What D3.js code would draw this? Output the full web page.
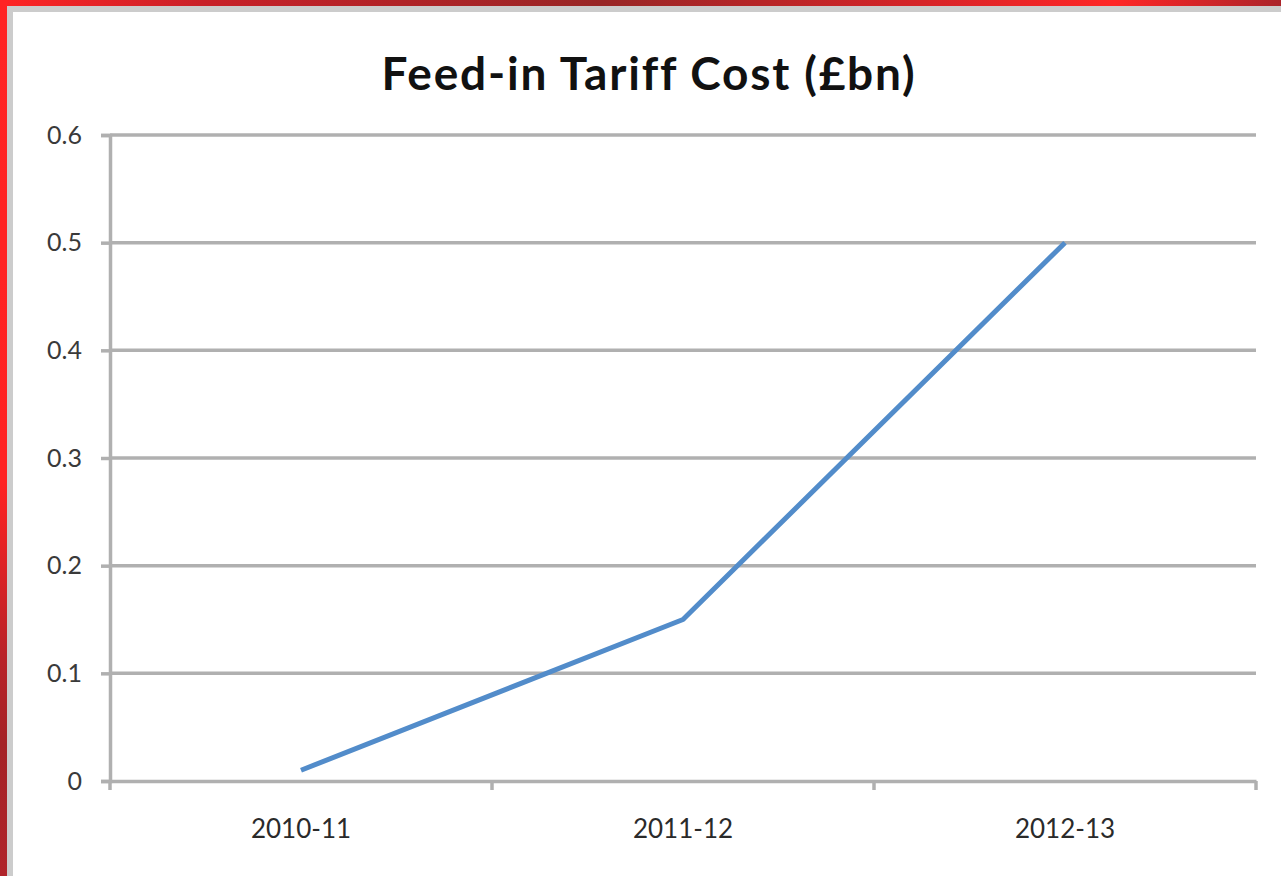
<!DOCTYPE html>
<html>
<head>
<meta charset="utf-8">
<script src="https://cdn.jsdelivr.net/npm/d3@7/dist/d3.min.js"></script>
<style>
  html, body { margin: 0; padding: 0; background: #fff; }
  svg { display: block; }
</style>
</head>
<body>
<svg id="chart" width="1281" height="876"></svg>
<script>
const title = "Feed-in Tariff Cost (£bn)";
const categories = ["2010-11", "2011-12", "2012-13"];
const values = [0.01, 0.15, 0.5];
const yTicks = [0, 0.1, 0.2, 0.3, 0.4, 0.5, 0.6];

const W = 1281, H = 876;
const svg = d3.select("#chart");
const margin = { left: 110, right: 25, top: 135, bottom: 95 };
const FONT = "Lato, 'Open Sans', sans-serif";

// frame: red gradient bands with grey inner bands
const defs = svg.append("defs");
const gTop = defs.append("linearGradient").attr("id", "gTop").attr("x1", 0).attr("x2", 1).attr("y1", 0).attr("y2", 0);
[[0, "#ff2424"], [0.16, "#c82028"], [0.47, "#982626"], [0.72, "#d62428"], [0.87, "#ff2626"], [1, "#ab242a"]]
  .forEach(([o, c]) => gTop.append("stop").attr("offset", o).attr("stop-color", c));
const gLeft = defs.append("linearGradient").attr("id", "gLeft").attr("x1", 0).attr("x2", 0).attr("y1", 0).attr("y2", 1);
[[0, "#ff2424"], [0.55, "#ff2222"], [0.75, "#b82228"], [0.85, "#a42226"], [1, "#b0242a"]]
  .forEach(([o, c]) => gLeft.append("stop").attr("offset", o).attr("stop-color", c));

svg.append("rect").attr("x", 0).attr("y", 0).attr("width", W).attr("height", 6).attr("fill", "url(#gTop)");
svg.append("rect").attr("x", 7).attr("y", 6).attr("width", W - 7).attr("height", 6).attr("fill", "#cccccc");
svg.append("rect").attr("x", 0).attr("y", 0).attr("width", 7).attr("height", H).attr("fill", "url(#gLeft)");
svg.append("rect").attr("x", 7).attr("y", 6).attr("width", 6).attr("height", H - 6).attr("fill", "#cccccc");

const x = d3.scaleBand().domain(categories).range([margin.left, W - margin.right]);
const y = d3.scaleLinear().domain([0, 0.6]).range([H - margin.bottom, margin.top]);

// gridlines
svg.append("g").selectAll("line").data(yTicks.filter(d => d > 0)).join("line")
  .attr("x1", margin.left).attr("x2", W - margin.right)
  .attr("y1", d => y(d)).attr("y2", d => y(d))
  .attr("stroke", "#b0b0b0").attr("stroke-width", 3.5);

// y axis
const yAxis = svg.append("g").attr("transform", `translate(${margin.left},0)`)
  .call(d3.axisLeft(y).tickValues(yTicks).tickFormat(d => d === 0 ? "0" : d3.format(".1f")(d)).tickSize(9).tickPadding(19));
yAxis.select(".domain").attr("stroke", "#b0b0b0").attr("stroke-width", 3.5);
yAxis.selectAll(".tick line").attr("stroke", "#b0b0b0").attr("stroke-width", 3.5);
yAxis.selectAll("text").attr("font-family", FONT).attr("font-size", 25).attr("fill", "#3a3a3a");

// x axis
const xAxis = svg.append("g").attr("transform", `translate(0,${y(0)})`)
  .call(d3.axisBottom(x).tickSize(0).tickPadding(39));
xAxis.select(".domain").attr("stroke", "#b0b0b0").attr("stroke-width", 3.5);
xAxis.selectAll("text").attr("font-family", FONT).attr("font-size", 26).attr("fill", "#2a2a2a");
// x tick marks at band boundaries
const bounds = categories.map(c => x(c)).concat([x(categories[categories.length - 1]) + x.bandwidth()]);
svg.append("g").selectAll("line").data(bounds).join("line")
  .attr("x1", d => d).attr("x2", d => d)
  .attr("y1", y(0)).attr("y2", y(0) + 9)
  .attr("stroke", "#b0b0b0").attr("stroke-width", 3.5);

// line
const line = d3.line().x((d, i) => x(categories[i]) + x.bandwidth() / 2).y(d => y(d));
svg.append("path").datum(values).attr("d", line)
  .attr("fill", "none").attr("stroke", "#528cca").attr("stroke-width", 5).attr("stroke-linejoin", "round");

// title
svg.append("text").attr("x", 649).attr("y", 90).attr("text-anchor", "middle")
  .attr("font-family", FONT).attr("font-weight", "bold").attr("font-size", 46)
  .attr("letter-spacing", 1.8)
  .attr("fill", "#111").text(title);
</script>
</body>
</html>
